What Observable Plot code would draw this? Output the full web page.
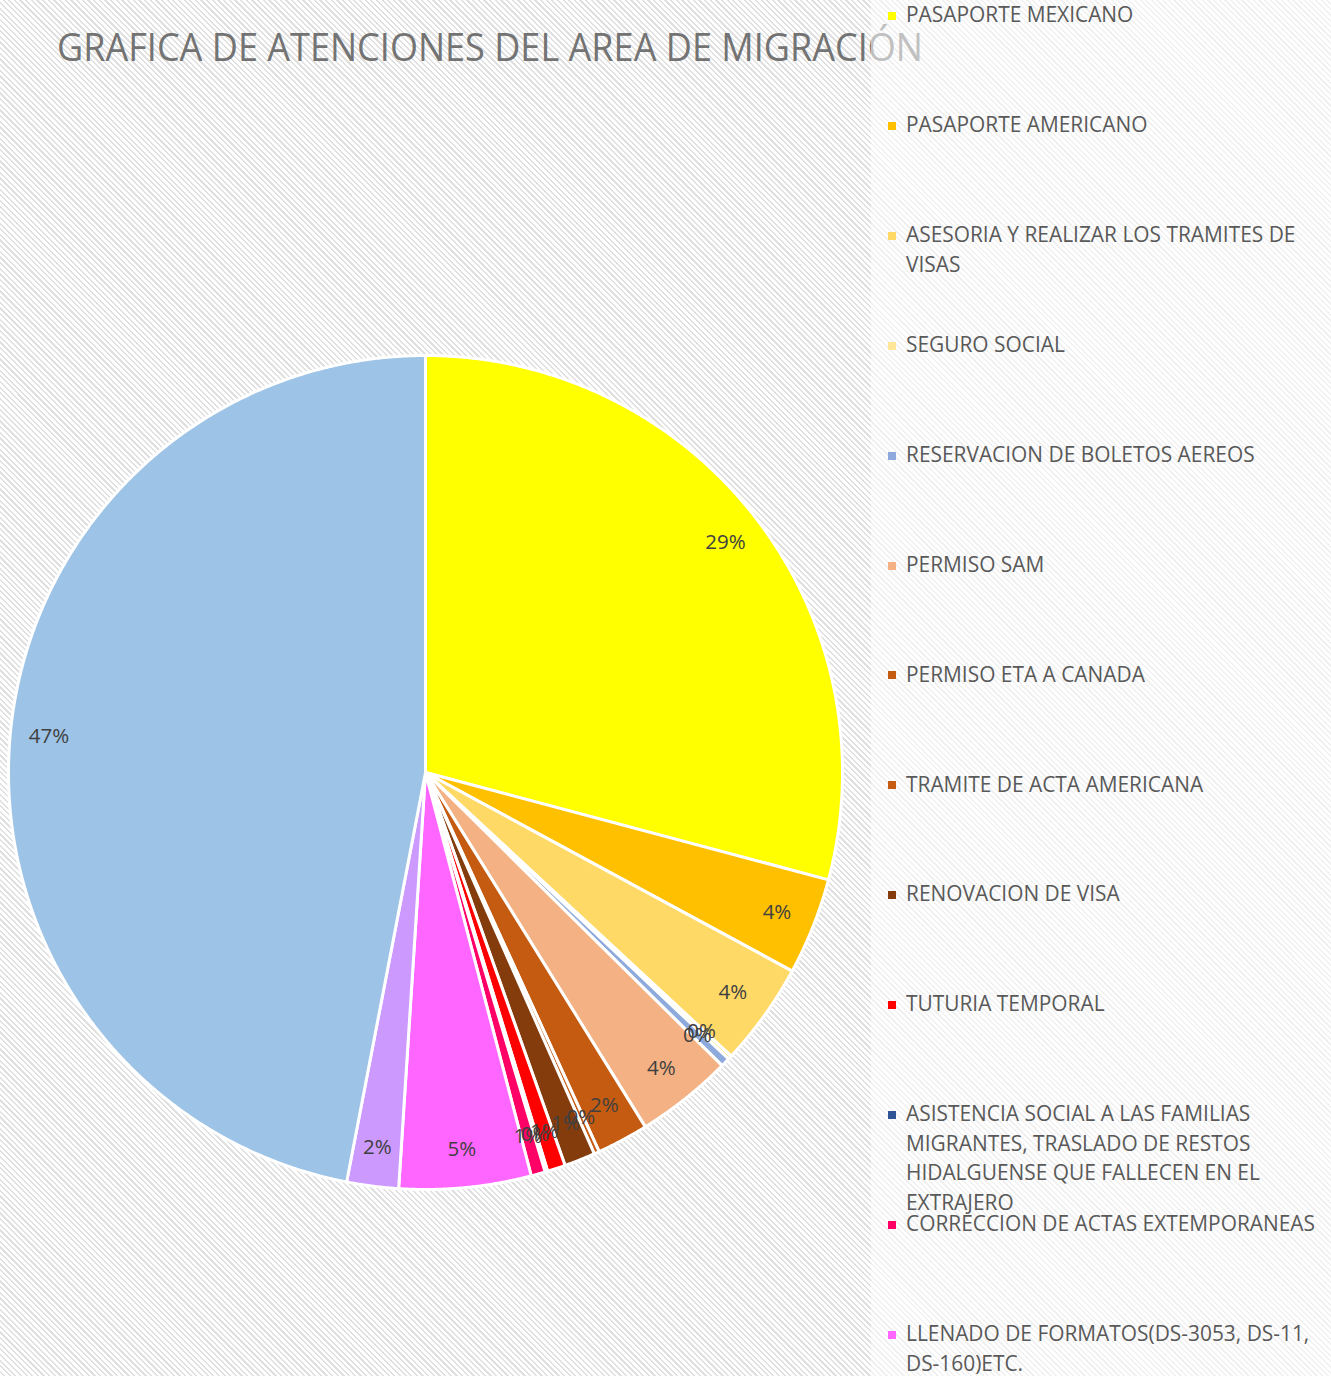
<!DOCTYPE html>
<html>
<head>
<meta charset="utf-8">
<script src="https://cdn.jsdelivr.net/npm/d3@7"></script>
<script src="https://cdn.jsdelivr.net/npm/@observablehq/plot@0.6"></script>
<style>
  html, body { margin: 0; padding: 0; }
  body {
    width: 1331px; height: 1376px; overflow: hidden; position: relative;
    background: repeating-linear-gradient(45deg, #ffffff 0px, #ffffff 2.4px, #e0e0e0 2.4px, #e0e0e0 4px);
    font-family: "Open Sans", "Noto Sans", sans-serif;
  }
  #chart { position: absolute; left: 0; top: 0; }
  #title { position: absolute; left: 0; top: 0; }
  #legend {
    position: absolute; left: 871px; top: 0; width: 460px; height: 1376px;
    background: rgba(255,255,255,0.55);
  }
  .item { position: absolute; left: 0; width: 460px; }
  .swatch { position: absolute; left: 17px; width: 8px; height: 8px; }
  .label {
    position: absolute; left: 35px; white-space: pre; color: #595959;
    font-size: 20.9px; line-height: 29.5px;
  }
</style>
</head>
<body>
<div id="chart"></div>
<svg id="title" width="1331" height="90"></svg>
<div id="legend"></div>
<script>
// ---- data ----
const chartTitle = "GRAFICA DE ATENCIONES DEL AREA DE MIGRACIÓN";
const categories = [
  "PASAPORTE MEXICANO",
  "PASAPORTE AMERICANO",
  "ASESORIA Y REALIZAR LOS TRAMITES DE\nVISAS",
  "SEGURO SOCIAL",
  "RESERVACION DE BOLETOS AEREOS",
  "PERMISO SAM",
  "PERMISO ETA A CANADA",
  "TRAMITE DE ACTA AMERICANA",
  "RENOVACION DE VISA",
  "TUTURIA TEMPORAL",
  "ASISTENCIA SOCIAL A LAS FAMILIAS\nMIGRANTES, TRASLADO DE RESTOS\nHIDALGUENSE QUE FALLECEN EN EL\nEXTRAJERO",
  "CORRECCION DE ACTAS EXTEMPORANEAS",
  "LLENADO DE FORMATOS(DS-3053, DS-11,\nDS-160)ETC.",
  "OTROS SERVICIOS",
  "ORIENTACION GENERAL"
];
const values = [582, 75, 80, 3, 7, 75, 40, 4, 24, 14, 2, 11, 102, 40, 938];
const colors = [
  "#FFFF00", "#FFC000", "#FFD966", "#FFE699", "#8EA9DB", "#F4B183", "#C55A11",
  "#C65B13", "#843C0C", "#FF0000", "#2F5597", "#FF0066", "#FF66FF", "#CC99FF", "#9DC3E6"
];

// ---- layout ----
const W = 1331, H = 1376;
const cx = 425, cy = 772, R = 417;
const plain = s => s.replace(/\n/g, " ");
const total = d3.sum(values);
const pct = d3.format(".0%");

const arcs = d3.pie().sort(null).value(d => d.value)(
  categories.map((c, i) => ({name: plain(c), value: values[i]}))
);

// polygon points for each slice, in unit-circle coordinates (y up)
const slicePts = [];
for (const a of arcs) {
  const name = a.data.name;
  slicePts.push({name, x: 0, y: 0});
  const n = Math.max(2, Math.ceil((a.endAngle - a.startAngle) / (Math.PI / 720)));
  for (let k = 0; k <= n; k++) {
    const t = a.startAngle + (a.endAngle - a.startAngle) * k / n;
    slicePts.push({name, x: Math.sin(t), y: Math.cos(t)});
  }
}
const labels = arcs.map(a => {
  const m = (a.startAngle + a.endAngle) / 2;
  return {name: a.data.name, x: 0.907 * Math.sin(m), y: 0.907 * Math.cos(m), text: pct(a.data.value / total)};
});

const plot = Plot.plot({
  width: W, height: H, margin: 0,
  x: {domain: [-cx / R, (W - cx) / R], range: [0, W], axis: null},
  y: {domain: [-(H - cy) / R, cy / R], range: [H, 0], axis: null},
  color: {domain: categories.map(plain), range: colors},
  style: {background: "transparent", fontFamily: "Open Sans, Noto Sans, sans-serif"},
  marks: [
    Plot.line(slicePts, {
      x: "x", y: "y", z: "name", fill: "name", stroke: "white",
      strokeWidth: 3, strokeLinejoin: "round", curve: "linear-closed"
    }),
    Plot.text(labels, {
      x: "x", y: "y", text: "text", fill: "#404040", fontSize: 20.5, textAnchor: "middle"
    })
  ]
});
document.getElementById("chart").appendChild(plot);

// ---- title ----
const tsvg = d3.select("#title");
tsvg.append("text")
  .attr("x", 57).attr("y", 61)
  .attr("textLength", 866).attr("lengthAdjust", "spacingAndGlyphs")
  .attr("fill", "#737373")
  .style("font-family", "Open Sans, Noto Sans, sans-serif")
  .style("font-size", "39px")
  .text(chartTitle);

// ---- legend (colors from the plot's color scale) ----
const colorScale = plot.scale("color");
const legend = d3.select("#legend");
categories.forEach((c, i) => {
  const top = 15 + 109.9 * i;
  const item = legend.append("div").attr("class", "item").style("top", (top - 14.75) + "px");
  item.append("div").attr("class", "swatch")
    .style("top", (14.75 - 4 + 1) + "px")
    .style("background", colorScale.apply(plain(c)));
  item.append("div").attr("class", "label").text(c);
});
</script>
</body>
</html>
